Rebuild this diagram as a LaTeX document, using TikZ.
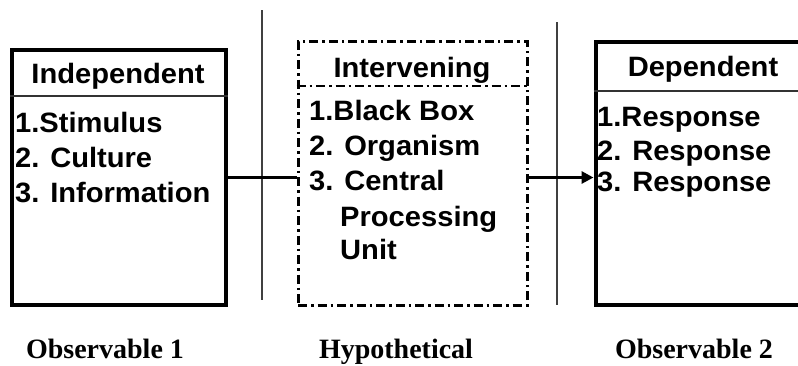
\documentclass[tikz,border=0pt]{standalone}
\usepackage{fontspec}
\setmainfont{Liberation Sans}
\newfontfamily\lblserif{Liberation Serif}
\usetikzlibrary{arrows.meta}
\newcommand\wtxt[1]{\scalebox{1.04}[1]{#1}}
\tikzset{
  sepline/.style={line width=1.1pt, draw=black!75},
  solidbox/.style={draw, line width=4pt, rectangle, inner sep=0pt},
  dashbox/.style={draw, line width=3pt, rectangle, inner sep=0pt,
    dash pattern=on 9pt off 4pt on 2.5pt off 4pt},
  headline/.style={line width=1.4pt, draw=black!80},
  dashhead/.style={line width=2.2pt, dash pattern=on 9pt off 4pt on 2.5pt off 4pt},
  head/.style={font=\fontsize{28}{28}\selectfont\bfseries, inner sep=0pt, anchor=base},
  item/.style={font=\fontsize{28}{28}\selectfont\bfseries, inner sep=0pt, anchor=base west},
  lbl/.style={font=\lblserif\fontsize{28}{28}\selectfont\bfseries, inner sep=0pt, anchor=base},
  conn/.style={line width=3pt}
}
\begin{document}
\begin{tikzpicture}[x=1pt,y=-1pt]
\useasboundingbox (0,0) rectangle (798,365);
% separators
\coordinate (s1t) at (262,10);
\coordinate (s1b) at (262,300);
\coordinate (s2t) at (557,22);
\coordinate (s2b) at (557,305);
\draw[sepline] (s1t) -- (s1b);
\draw[sepline] (s2t) -- (s2b);
% boxes
\node[solidbox, minimum width=214pt, minimum height=255pt] (ind) at (119,177.5) {};
\node[dashbox, minimum width=229pt, minimum height=264pt] (int) at (412.5,173) {};
\node[solidbox, minimum width=227pt, minimum height=263pt] (dep) at (709,173) {};
% header dividers
\draw[headline] (ind.west |- 0,96) -- (ind.east |- 0,96);
\draw[dashhead] (int.west |- 0,86) -- (int.east |- 0,86);
\draw[headline] (dep.west |- 0,91) -- (dep.east |- 0,91);
% headers
\node[head] (indh) at (118,83) {\wtxt{Independent}};
\node[head] (inth) at (412,77) {\wtxt{Intervening}};
\node[head] (deph) at (703,76) {\wtxt{Dependent}};
% items
\node[item] (i1) at (15,132) {\wtxt{1.Stimulus}};
\node[item] (i2) at (15,167) {\wtxt{2. Culture}};
\node[item] (i3) at (15,202) {\wtxt{3. Information}};
\node[item] (m1) at (309,120) {\wtxt{1.Black Box}};
\node[item] (m2) at (309,155) {\wtxt{2. Organism}};
\node[item] (m3) at (309,190) {\wtxt{3. Central}};
\node[item] (m4) at (340,226) {\wtxt{Processing}};
\node[item] (m5) at (340,259) {\wtxt{Unit}};
\node[item] (d1) at (597,126) {\wtxt{1.Response}};
\node[item] (d2) at (597,160) {\wtxt{2. Response}};
\node[item] (d3) at (597,191) {\wtxt{3. Response}};
% connectors
\draw[conn] (ind.east) -- (ind.east -| int.west);
\draw[conn, -{Triangle[length=12pt,width=12pt]}] (ind.east -| int.east) -- (ind.east -| dep.west);
% labels
\node[lbl] (o1) at (105,358) {Observable 1};
\node[lbl] (hy) at (396,358) {Hypothetical};
\node[lbl] (o2) at (694,358) {Observable 2};
\end{tikzpicture}
\end{document}
